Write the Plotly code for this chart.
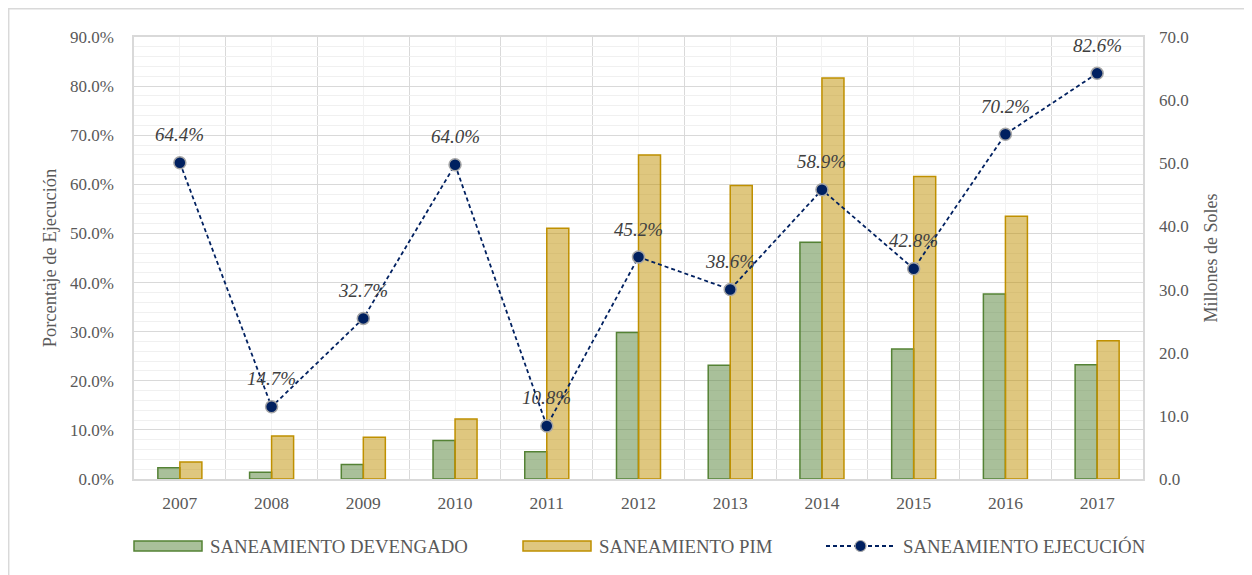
import plotly.graph_objects as go

years = [2007, 2008, 2009, 2010, 2011, 2012, 2013, 2014, 2015, 2016, 2017]
devengado = [1.8, 1.05, 2.3, 6.1, 4.3, 23.2, 18.0, 37.5, 20.6, 29.3, 18.1]
pim = [2.7, 6.8, 6.6, 9.5, 39.7, 51.3, 46.5, 63.5, 47.9, 41.6, 21.9]
ejecucion = [64.4, 14.7, 32.7, 64.0, 10.8, 45.2, 38.6, 58.9, 42.8, 70.2, 82.6]

names = ["SANEAMIENTO DEVENGADO", "SANEAMIENTO PIM", "SANEAMIENTO EJECUCIÓN"]
GREEN = "#548235"
GOLD = "#bf9000"
NAVY = "#002060"
FONT = "'Liberation Serif', 'Times New Roman', Tinos, 'DejaVu Serif', serif"
TXT = "#595959"

# page offset (browser body margin)
OFF = 8

fig = go.Figure()
fig.add_trace(go.Bar(x=years, y=devengado, name=names[0], yaxis="y",
                     marker=dict(color="rgba(84,130,53,0.5)", line=dict(color=GREEN, width=1.5)),
                     showlegend=False))
fig.add_trace(go.Bar(x=years, y=pim, name=names[1], yaxis="y",
                     marker=dict(color="rgba(191,144,0,0.5)", line=dict(color=GOLD, width=1.5)),
                     showlegend=False))
fig.add_trace(go.Scatter(x=years, y=[v / 100 for v in ejecucion], name=names[2], yaxis="y2",
                         mode="lines+markers",
                         line=dict(color=NAVY, width=1.8, dash="4px,3px"),
                         marker=dict(size=12, color=NAVY, line=dict(color="#a6a6a6", width=1.5)),
                         showlegend=False))

for yr, v in zip(years, ejecucion):
    fig.add_annotation(x=yr, y=v / 100, xref="x", yref="y2", text=f"{v:.1f}%",
                       showarrow=False, yshift=28,
                       font=dict(family=FONT, size=19, color="#404040", style="italic"))

# custom legend (positions in page pixels -> paper coords)
def px2x(p):
    return (p - 134) / 1009.0

def py2y(p):
    return (479 - p) / 442.0

leg_y0, leg_y1 = py2y(551), py2y(541)
leg_yc = py2y(546)
fig.add_shape(type="rect", xref="paper", yref="paper", x0=px2x(134), x1=px2x(202), y0=leg_y0, y1=leg_y1,
              fillcolor="rgba(84,130,53,0.5)", line=dict(color=GREEN, width=1.5))
fig.add_shape(type="rect", xref="paper", yref="paper", x0=px2x(523), x1=px2x(591), y0=leg_y0, y1=leg_y1,
              fillcolor="rgba(191,144,0,0.5)", line=dict(color=GOLD, width=1.5))
fig.add_shape(type="line", xref="paper", yref="paper", x0=px2x(826), x1=px2x(895), y0=leg_yc, y1=leg_yc,
              line=dict(color=NAVY, width=1.8, dash="4px,3px"))
fig.add_shape(type="circle", xref="paper", yref="paper", x0=px2x(855), x1=px2x(866),
              y0=py2y(551.5), y1=py2y(540.5),
              fillcolor=NAVY, line=dict(color="#a6a6a6", width=1.2))
for xs, nm in zip([208, 597, 901], names):
    fig.add_annotation(xref="paper", yref="paper", x=px2x(xs), y=leg_yc, text=nm,
                       showarrow=False, xanchor="left", yanchor="middle",
                       font=dict(family=FONT, size=18.8, color=TXT))

# outer chart border
fig.add_shape(type="rect", xref="paper", yref="paper", x0=px2x(8.7), x1=px2x(1270),
              y0=py2y(600), y1=py2y(8.7), line=dict(color="#d9d9d9", width=1.5), layer="below")

fig.update_layout(
    width=1252 - OFF, height=575 - OFF,
    margin=dict(l=134 - OFF, r=109, t=37 - OFF, b=96, autoexpand=False),
    paper_bgcolor="white", plot_bgcolor="white",
    barmode="group", bargap=0.52, bargroupgap=0,
    font=dict(family=FONT, size=17, color=TXT),
    xaxis=dict(range=[2006.5, 2017.5], tickvals=years, ticktext=[str(y) for y in years],
               showgrid=True, gridcolor="#f2f2f2", gridwidth=1,
               minor=dict(tickvals=[y + 0.5 for y in [2006] + years], showgrid=True,
                          gridcolor="#d9d9d9", gridwidth=1, ticks=""),
               showline=True, linecolor="#d9d9d9", linewidth=1.5, mirror=True,
               ticks="", ticklabelstandoff=7, zeroline=False,
               tickfont=dict(family=FONT, size=17.5, color=TXT)),
    yaxis=dict(range=[0, 70], dtick=10, tickformat=".1f", side="right",
               showgrid=False, zeroline=False, ticks="", ticklabelstandoff=15,
               title=dict(text="Millones de Soles", standoff=16,
                          font=dict(family=FONT, size=18, color=TXT)),
               tickfont=dict(family=FONT, size=17, color=TXT)),
    yaxis2=dict(range=[0, 0.9], dtick=0.1, tickformat=".1%", side="left", overlaying="y",
                showgrid=True, gridcolor="#d9d9d9", gridwidth=1,
                minor=dict(dtick=0.02, showgrid=True, gridcolor="#f0f0f0", gridwidth=1, ticks=""),
                showline=True, linecolor="#d9d9d9", linewidth=1.5, mirror=True,
                zeroline=False, ticks="", ticklabelstandoff=15,
                title=dict(text="Porcentaje de Ejecución", standoff=8,
                           font=dict(family=FONT, size=18.5, color=TXT)),
                tickfont=dict(family=FONT, size=17, color=TXT)),
)

fig.write_html("out.html")
